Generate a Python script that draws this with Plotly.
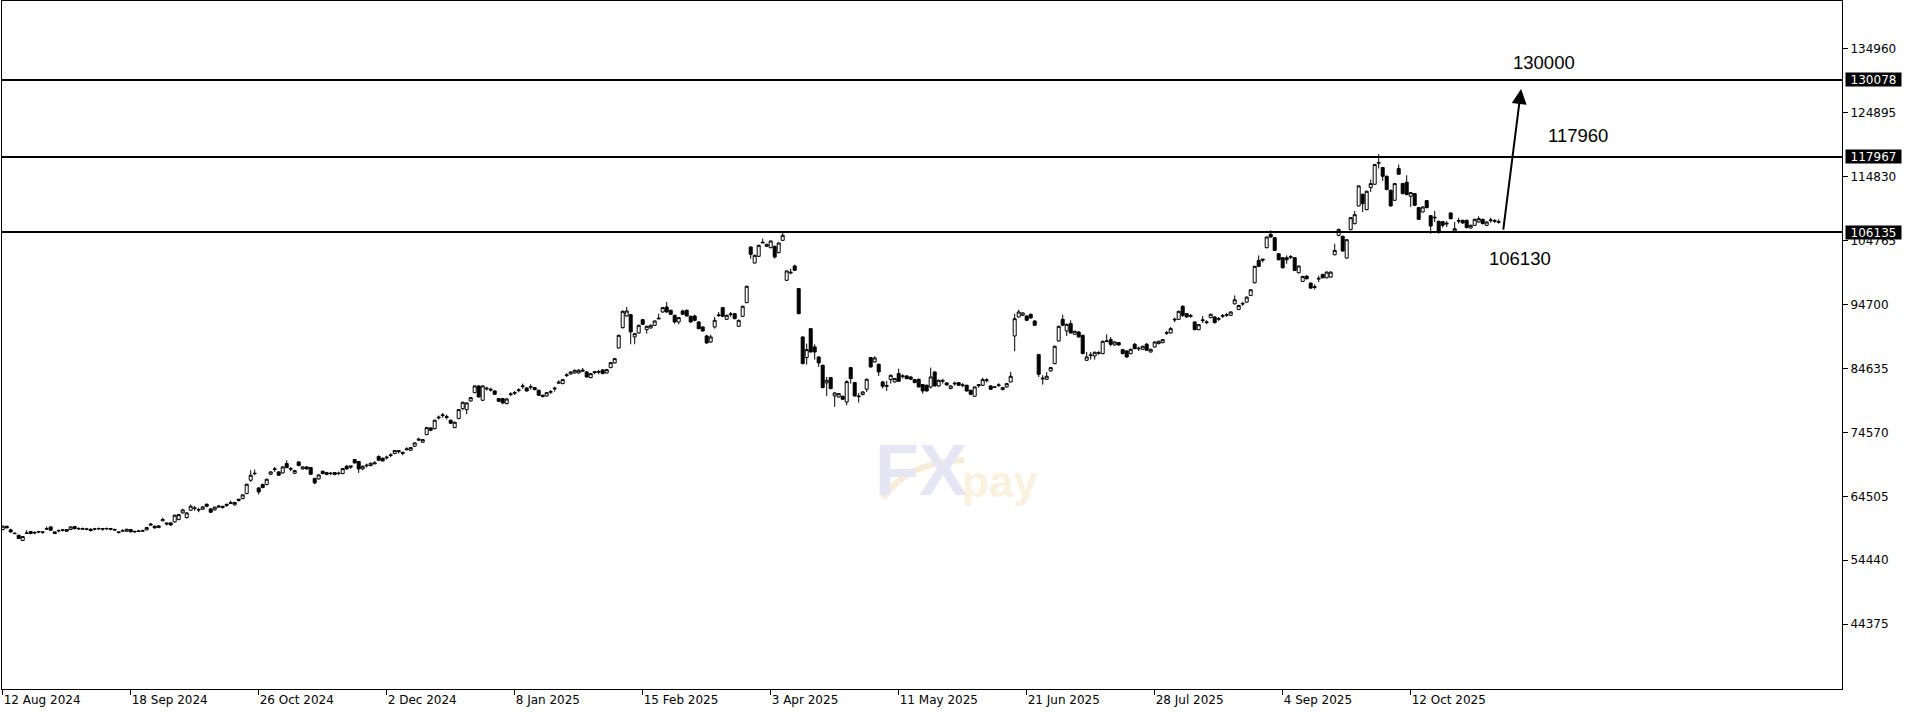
import plotly.graph_objects as go

# ---------------- data (daily candles) ----------------
opens = [
    59270, 59795, 59218, 58693, 58378, 57539, 58650, 58955, 58798, 58955,
    58903, 59323, 59690, 58903, 59060, 59165, 59270, 59270, 59743, 59375,
    59323, 59360, 59323, 59330, 59380, 59428, 59390, 59428, 59170, 58903,
    59008, 59008, 59270, 59008, 58955, 59008, 59218, 59953, 59795, 59585,
    60635, 60320, 60320, 60478, 60845, 61894, 61159, 62314, 62681, 62419,
    62471, 63259, 62524, 62366, 62786, 62944, 63259, 63364, 63154, 64046,
    64151, 64938, 67037, 68140, 65830, 66355, 66355, 67982, 68717, 68349,
    68192, 69661, 68874, 68140, 69924, 68822, 69136, 69031, 67300, 67247,
    68454, 67930, 68087, 68244, 68087, 68087, 69241, 69294, 70291, 69976,
    68822, 69294, 69347, 69609, 70763, 70501, 70553, 70921, 71236, 71708,
    71446, 71813, 71760, 72390, 73335, 73020, 74227, 75277, 75172, 76851,
    77218, 77061, 76484, 75329, 76746, 78320, 78163, 79527, 80839, 81889,
    79632, 81417, 81365, 81102, 79895, 79895, 79108, 80525, 80735, 81154,
    81784, 81574, 81679, 81627, 81207, 80420, 80315, 80892, 81417, 82310,
    82257, 83516, 83779, 83936, 83936, 84199, 84094, 83201, 84146, 84041,
    84409, 83936, 84776, 85511, 87872, 91073, 92910, 93120, 89604, 90234,
    92333, 90759, 91021, 91441, 92438, 93540, 94327, 93802, 93015, 91966,
    93697, 93802, 92858, 92910, 91966, 91178, 89761, 88817, 91178, 92963,
    94222, 92386, 93120, 93277, 91283, 92858, 95010, 103774, 101255, 102304,
    104403, 103879, 103669, 103879, 102882, 104823, 98526, 99680, 100782, 97214,
    89604, 86350, 90916, 88030, 86455, 85143, 82362, 83201, 80315, 80157,
    80262, 79370, 84776, 82415, 80315, 80525, 81365, 86350, 85668, 85301,
    82520, 81837, 82887, 82520, 83831, 83359, 83463, 83306, 82887, 82939,
    82100, 81994, 81732, 84094, 81889, 82625, 82362, 81470, 82205, 82415,
    81942, 81994, 81207, 80262, 82100, 81994, 82730, 81889, 81732, 81942,
    81312, 81732, 82520, 89761, 92753, 93015, 92910, 93172, 92123, 86823,
    82992, 82940, 84251, 85406, 88974, 92386, 90549, 91703, 90024, 90391,
    89866, 85930, 86665, 86613, 87032, 86980, 88869, 89184, 88344, 88712,
    87610, 87400, 86980, 88449, 87715, 87662, 88449, 87242, 88030, 88554,
    88712, 90181, 90234, 92281, 92386, 94432, 93278, 92858, 91966, 90759,
    92176, 91861, 92648, 92753, 92386, 92858, 93015, 93015, 94827, 93933,
    94774, 95090, 96142, 98140, 101664, 101874, 103662, 105765, 105240, 102715,
    102084, 102084, 102137, 102084, 99718, 98350, 99192, 98087, 97403, 98718,
    99455, 98929, 99034, 102557, 105607, 105450, 102032, 106502, 107448, 110236,
    112076, 109657, 113128, 113654, 116967, 116284, 114916, 112708, 111130, 116126,
    113759, 113970, 111761, 112182, 109973, 109289, 111077, 108711, 108343, 107817,
    107764, 107396, 109131, 106292, 107817, 107974, 107974, 106765, 107186, 107711,
    108132, 107186, 107922, 107817, 107659,
]
highs = [
    59900, 59848, 59428, 58850, 58430, 58220, 59165, 59060, 59008, 59008,
    58903, 59743, 59795, 58955, 59270, 59375, 59323, 59743, 59848, 59638,
    59585, 59533, 59480, 59533, 59585, 59428, 59585, 59428, 59428, 58903,
    59323, 59375, 59323, 59008, 59218, 59270, 59690, 60320, 59900, 59950,
    61160, 60320, 60425, 61631, 61736, 62524, 61999, 63206, 62996, 62681,
    62944, 63364, 62629, 62891, 63154, 62944, 63259, 63836, 63626, 64046,
    64833, 66512, 68612, 68717, 65935, 66512, 67300, 68454, 69136, 68454,
    69241, 70186, 69136, 68664, 70029, 69241, 69241, 69136, 67457, 67982,
    68559, 68349, 68349, 68349, 68400, 68979, 69451, 69294, 70396, 70081,
    69347, 69661, 69819, 70029, 70973, 70606, 70921, 71288, 71813, 71708,
    71446, 72233, 72285, 73020, 73755, 73545, 75434, 75382, 76589, 77218,
    77638, 77376, 76589, 76274, 78268, 79423, 79318, 80157, 81994, 81994,
    81994, 81784, 81627, 81207, 80000, 80000, 79947, 80892, 81102, 81522,
    82257, 81679, 82152, 81732, 81312, 80525, 80945, 81260, 81784, 82782,
    82992, 83884, 84199, 84461, 84566, 84723, 84199, 83936, 84146, 84409,
    84514, 84566, 85668, 86298, 89971, 93802, 94327, 93225, 90234, 91546,
    92438, 91388, 91546, 92228, 93277, 94327, 95114, 93907, 93120, 92753,
    93907, 93907, 92963, 93120, 92071, 91283, 89971, 89971, 92753, 93540,
    94327, 93120, 93540, 93382, 92333, 94537, 97686, 103879, 102567, 104141,
    105086, 104298, 104823, 103984, 104508, 105978, 100100, 100362, 100992, 97319,
    89709, 88554, 91021, 88449, 86560, 85248, 83306, 83306, 80892, 80787,
    80367, 82782, 84881, 82520, 80787, 81050, 83044, 86455, 86560, 85406,
    82677, 82677, 83674, 83149, 84619, 83726, 83569, 83411, 82992, 83044,
    82205, 82100, 84776, 84199, 82887, 83044, 82467, 81994, 82572, 82520,
    82362, 82100, 81312, 81837, 82100, 83202, 83097, 81994, 81784, 82309,
    81732, 82362, 84094, 93278, 93907, 93487, 93015, 93278, 92228, 86928,
    83569, 84094, 84881, 88240, 91388, 93120, 91703, 92228, 90601, 90496,
    89971, 87242, 87242, 87295, 87400, 89026, 90024, 89604, 88922, 88817,
    87715, 87505, 87767, 88659, 88082, 88240, 88659, 87767, 88922, 89026,
    89289, 90549, 91178, 92648, 93750, 94590, 93382, 93225, 92071, 91651,
    92910, 92228, 93278, 92858, 92753, 93225, 93382, 93645, 96142, 94669,
    95142, 95984, 97141, 100822, 102452, 101874, 105450, 106397, 105345, 102821,
    102189, 102452, 102505, 102189, 100874, 99244, 99297, 98193, 97877, 99244,
    99560, 99929, 99929, 104293, 106659, 105555, 105029, 108500, 109447, 113496,
    112182, 112655, 114390, 116862, 118387, 116389, 115022, 112813, 113864, 116757,
    113864, 115074, 112444, 112287, 110078, 110183, 111182, 108816, 109447, 107922,
    107869, 107869, 109237, 107711, 108395, 108079, 108079, 107291, 108237, 108605,
    108237, 107817, 108395, 108185, 108132,
]
lows = [
    59165, 59480, 58745, 58535, 57801, 57486, 58640, 58535, 58535, 58693,
    58588, 59323, 59113, 58588, 58850, 58955, 58955, 59218, 59270, 59218,
    59270, 59165, 58955, 59165, 59218, 59113, 59218, 59165, 59165, 58640,
    59008, 58955, 58850, 58745, 58955, 59008, 59165, 59953, 59428, 59480,
    60635, 59900, 59848, 60373, 60740, 61789, 61002, 62209, 62209, 61999,
    62366, 62786, 61894, 62261, 62786, 62576, 62839, 63364, 63049, 63678,
    64046, 64833, 66775, 67825, 64781, 65778, 66250, 67877, 68349, 67720,
    68087, 68926, 68454, 68035, 69241, 68717, 68717, 67877, 66407, 67142,
    67982, 67825, 67825, 67825, 67825, 67982, 68717, 68822, 69661, 68192,
    68612, 69031, 69241, 69609, 70081, 69976, 70291, 70658, 71131, 71236,
    70973, 71813, 71655, 72285, 73335, 72915, 74122, 74752, 75014, 76589,
    76904, 76589, 75906, 75224, 76641, 78058, 77428, 79423, 80735, 80052,
    79527, 81154, 80997, 80472, 79370, 79003, 79003, 80262, 80472, 80892,
    81417, 80997, 81312, 81207, 80315, 80105, 80210, 80630, 80997, 82310,
    82152, 83306, 83674, 83831, 83831, 84199, 83201, 83096, 83726, 83726,
    83726, 83831, 84671, 85406, 87767, 90916, 92805, 88449, 88449, 90129,
    91493, 90129, 90916, 91336, 92438, 93435, 93435, 93067, 91703, 91598,
    93067, 92805, 91861, 92071, 90811, 90444, 88554, 88659, 90916, 92753,
    92753, 92281, 92753, 92386, 91178, 92753, 94905, 101937, 101150, 102199,
    104403, 103774, 103564, 101937, 102777, 104718, 98421, 99470, 99995, 93173,
    85301, 85248, 87137, 86036, 84881, 81522, 80315, 81365, 78583, 80052,
    79685, 78846, 82257, 80210, 79266, 80420, 80945, 84776, 85563, 83463,
    81470, 81102, 82257, 82415, 82520, 83044, 82939, 82834, 82310, 81627,
    80682, 80997, 81470, 81784, 81784, 82257, 81942, 81365, 81942, 81889,
    81679, 80997, 80420, 80157, 81627, 81889, 82415, 81259, 81627, 81732,
    81207, 81627, 82415, 87347, 92648, 92910, 92123, 92490, 91336, 83306,
    82100, 82835, 84146, 85301, 88869, 91336, 89761, 90129, 89919, 89499,
    86875, 85825, 86035, 86035, 86770, 86875, 88869, 88135, 88240, 88240,
    86875, 86298, 86875, 87662, 87400, 87557, 87400, 87137, 87925, 88449,
    88607, 89919, 90129, 91913, 92281, 92753, 92648, 92595, 90654, 90654,
    91808, 91598, 92543, 91703, 92123, 92595, 92753, 92910, 94722, 93828,
    94511, 94985, 96036, 98035, 100612, 101348, 103557, 105240, 103136, 101664,
    100401, 101138, 101874, 99980, 99613, 98245, 98666, 97193, 97088, 98245,
    98824, 98824, 98929, 102452, 105450, 103031, 101926, 106397, 107343, 110131,
    109289, 109552, 112444, 113549, 116126, 114180, 112708, 110131, 111025, 115127,
    112076, 111919, 110078, 110236, 108027, 109184, 109868, 105871, 107711, 105871,
    106817, 106923, 108132, 106134, 107448, 107448, 106712, 106659, 107080, 107606,
    107343, 107080, 107606, 107554, 107448,
]
closes = [
    59795, 59533, 58903, 58640, 57853, 58168, 58720, 58640, 58760, 58903,
    58850, 59400, 59165, 58640, 59113, 59210, 59008, 59690, 59428, 59420,
    59400, 59330, 59113, 59360, 59420, 59340, 59420, 59330, 59260, 58830,
    59100, 59323, 58903, 58930, 59040, 59080, 59585, 60110, 59533, 59848,
    60845, 60163, 60005, 61526, 61631, 62366, 61894, 62944, 62600, 62360,
    62839, 62944, 61999, 62786, 62944, 62786, 63101, 63521, 63521, 63888,
    64728, 66407, 67825, 68087, 65200, 65883, 67195, 68349, 68822, 67825,
    69136, 69031, 68790, 68559, 69347, 69136, 68822, 67982, 66618, 67877,
    68087, 68244, 68140, 67930, 68140, 68874, 68822, 69136, 69766, 68822,
    69241, 69399, 69714, 69766, 70186, 70081, 70658, 71026, 71708, 71550,
    71288, 71970, 72180, 72915, 73492, 73440, 75329, 74909, 76484, 76956,
    77323, 76956, 76011, 76169, 78163, 79318, 79213, 80052, 81889, 80157,
    81889, 81522, 81260, 80577, 79475, 79213, 79842, 80630, 80840, 81260,
    81889, 81102, 81784, 81312, 80420, 80210, 80840, 80997, 81522, 82467,
    82887, 83621, 84094, 84356, 84356, 84356, 83306, 83831, 83989, 84146,
    83831, 84461, 85563, 86193, 89866, 93645, 93697, 90391, 90129, 91441,
    91598, 91283, 91441, 92123, 92543, 94222, 93540, 93172, 91966, 92648,
    93172, 92910, 91966, 92228, 90916, 90549, 88659, 89604, 92228, 93067,
    92858, 93015, 93225, 92490, 92228, 94432, 97581, 102619, 102462, 104036,
    104508, 104193, 104718, 102199, 104403, 105610, 99995, 99785, 100100, 93278,
    85406, 87610, 87242, 87242, 85511, 81627, 82782, 81470, 80787, 80682,
    79790, 82572, 83044, 80315, 80210, 80945, 82939, 84881, 86298, 84094,
    81837, 81942, 83569, 83044, 82625, 83463, 83044, 82939, 82415, 81732,
    81102, 81102, 83306, 81889, 82782, 82730, 82047, 81889, 82310, 81994,
    82047, 81102, 80577, 81732, 81942, 82887, 82835, 81364, 81690, 82047,
    81627, 82257, 83412, 92490, 93540, 93382, 92228, 92595, 91441, 83726,
    83097, 83412, 84776, 88135, 91283, 91441, 91598, 90234, 90496, 89604,
    86980, 86455, 86770, 87190, 87137, 88922, 88974, 88449, 88817, 88344,
    86980, 86455, 87662, 87767, 87820, 88135, 87505, 87662, 88817, 88922,
    89184, 90286, 90916, 92386, 93645, 93015, 92753, 92963, 90759, 91546,
    92281, 91966, 93172, 91861, 92490, 92963, 93120, 93540, 95458, 94564,
    94880, 95879, 97035, 100717, 100717, 101716, 105345, 105345, 103241, 101769,
    100506, 101769, 102242, 100085, 100769, 99139, 98771, 97298, 97508, 98824,
    98929, 99823, 99823, 103241, 106554, 103136, 104924, 108395, 108868, 113391,
    110604, 112549, 113759, 116757, 117072, 114916, 112813, 110236, 113759, 115232,
    112182, 112024, 112339, 110341, 108132, 110078, 109973, 107080, 108448, 106134,
    107186, 107501, 108237, 106659, 107922, 107554, 106817, 107186, 108132, 108237,
    107448, 107711, 108027, 107922, 107764,
]

tick_bars = [0, 32, 64, 96, 128, 160, 192, 224, 256, 288, 320, 352]
tick_labels = ["12 Aug 2024", "18 Sep 2024", "26 Oct 2024", "2 Dec 2024",
               "8 Jan 2025", "15 Feb 2025", "3 Apr 2025", "11 May 2025",
               "21 Jun 2025", "28 Jul 2025", "4 Sep 2025", "12 Oct 2025"]

price_ticks = [134960, 124895, 114830, 104765, 94700, 84635, 74570, 64505, 54440, 44375]
level_lines = [130078, 117967, 106135]
level_notes = ["130000", "117960", "106130"]
target_from = 106290
target_to = 128657

bars = list(range(len(closes)))

# ---------------- figure ----------------
fig = go.Figure()
fig.add_trace(go.Candlestick(
    x=bars, open=opens, high=highs, low=lows, close=closes,
    increasing=dict(line=dict(color="black", width=1), fillcolor="white"),
    decreasing=dict(line=dict(color="black", width=1), fillcolor="black"),
    whiskerwidth=0, showlegend=False, hoverinfo="skip",
))

X0 = -0.175
X1 = X0 + 460
Y0, Y1 = 34157, 142518

fig.update_layout(
    width=1920, height=716,
    margin=dict(l=2, r=78, t=1, b=27, pad=0),
    paper_bgcolor="white", plot_bgcolor="white",
    showlegend=False,
    boxgap=0.25, boxgroupgap=0,
    font=dict(family="DejaVu Sans", size=12, color="black"),
)
fig.update_xaxes(
    range=[X0, X1], rangeslider=dict(visible=False),
    showgrid=False, zeroline=False,
    showline=True, linecolor="black", linewidth=1, mirror=True,
    ticks="outside", ticklen=5, tickcolor="black", tickwidth=1,
    tickvals=tick_bars, ticktext=tick_labels,
    ticklabelposition="outside right",
    tickfont=dict(family="DejaVu Sans", size=12, color="black"),
    automargin=False,
)
fig.update_yaxes(
    range=[Y0, Y1], side="right",
    showgrid=False, zeroline=False,
    showline=True, linecolor="black", linewidth=1, mirror=True,
    ticks="outside", ticklen=5, tickcolor="black", tickwidth=1,
    tickvals=price_ticks, ticktext=[str(v) for v in price_ticks],
    tickfont=dict(family="DejaVu Sans", size=12, color="black"),
    automargin=False,
)

# horizontal levels + price boxes on the axis
for lv in level_lines:
    fig.add_shape(type="line", xref="paper", x0=0, x1=1, yref="y", y0=lv, y1=lv,
                  line=dict(color="black", width=2), layer="above")
    fig.add_annotation(xref="paper", x=1, xanchor="left", xshift=3,
                       yref="y", y=lv, yanchor="middle",
                       text=str(lv), showarrow=False,
                       font=dict(family="DejaVu Sans", size=12, color="white"),
                       bgcolor="black", borderpad=0, width=55, height=13)

# level notes
note_pos = [(385.3, 132910), (393.8, 121413), (379.3, 102040)]
for txt, (nx, ny) in zip(level_notes, note_pos):
    fig.add_annotation(x=nx, y=ny, xref="x", yref="y", text=txt, showarrow=False,
                       xanchor="center", yanchor="middle",
                       font=dict(family="Liberation Sans", size=18.5, color="black"))

# target arrow
fig.add_annotation(x=379.6, y=target_to, ax=375.1, ay=target_from,
                   xref="x", yref="y", axref="x", ayref="y",
                   text="", showarrow=True, arrowhead=2, arrowsize=1.5,
                   arrowwidth=2, arrowcolor="black", standoff=0)

# faint watermark
fig.add_shape(type="path", xref="paper", yref="paper",
              path="M 0.4788,0.2776 Q 0.4920,0.3300 0.5230,0.3330",
              line=dict(color="#f7ecd8", width=6), layer="below")
fig.add_annotation(xref="paper", yref="paper", x=0.4995, y=0.318,
                   text="<b>FX</b>", showarrow=False, xanchor="center", yanchor="middle",
                   font=dict(family="Liberation Sans", size=72, color="#e5e5f4"))
fig.add_annotation(xref="paper", yref="paper", x=0.5425, y=0.302,
                   text="<b>pay</b>", showarrow=False, xanchor="center", yanchor="middle",
                   font=dict(family="Liberation Sans", size=44, color="#faf1df"))

fig.write_html("out.html",
               config={"displayModeBar": False},
               post_script="document.body.style.margin='0px';document.body.style.overflow='hidden';")
